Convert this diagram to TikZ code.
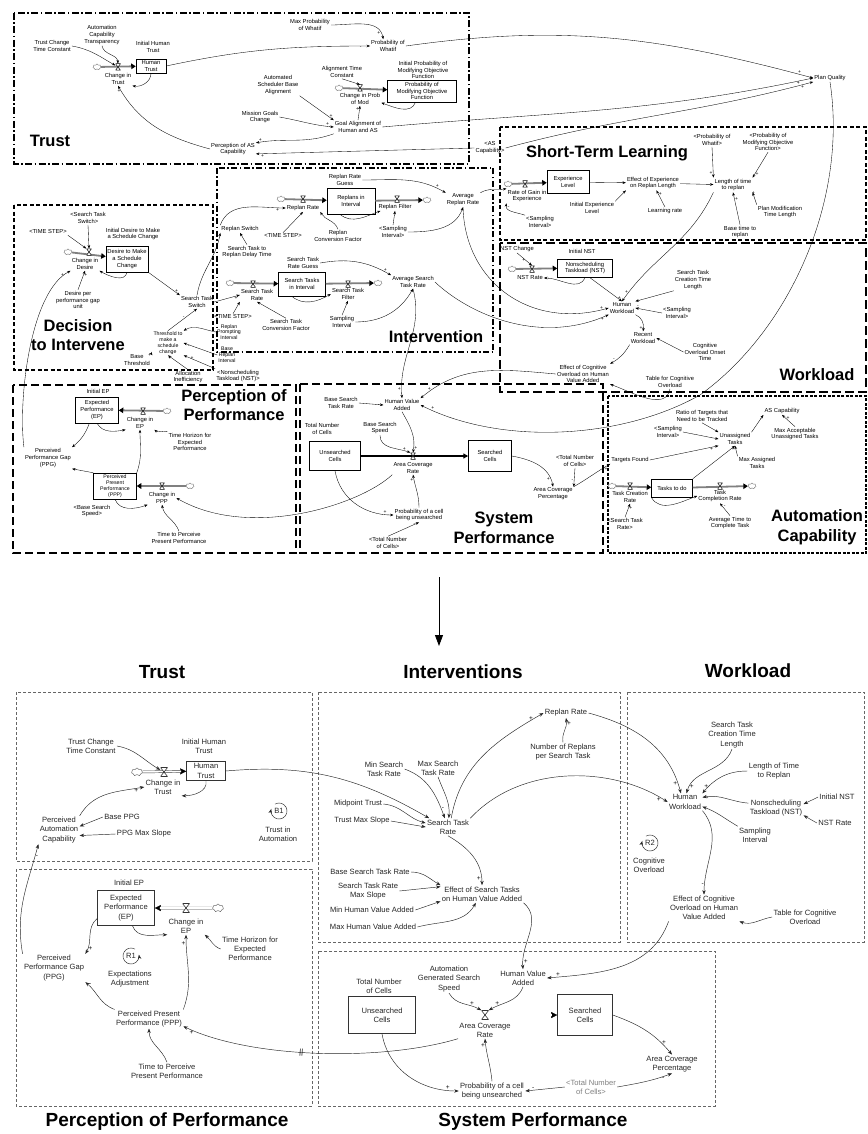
\documentclass[tikz,border=0pt]{standalone}
\usepackage{fontspec}
\setmainfont{Liberation Sans}
\usetikzlibrary{arrows.meta,shapes.symbols,calc}

\newcommand\tsz{\fontsize{5.8}{6.9}\selectfont}
\newcommand\thsz{\fontsize{5.2}{5.8}\selectfont}
\newcommand\bsz{\fontsize{7.6}{9.2}\selectfont}
\newcommand\psz{\fontsize{5}{5}\selectfont}

\begin{document}
\begin{tikzpicture}[x=1pt,y=-1pt,
  tl/.style={font=\tsz, align=center, inner sep=1pt},
  bl/.style={font=\bsz, align=center, inner sep=1.2pt, text=black!85},
  stT/.style={draw, line width=.5pt, font=\tsz, align=center, inner sep=1.5pt},
  stB/.style={draw=black!80, line width=.6pt, font=\bsz, align=center, inner sep=1.5pt, text=black!85},
  ttl/.style={font=\fontsize{16.5}{19.5}\selectfont\bfseries, align=center, inner sep=0pt},
  btl/.style={font=\fontsize{19}{22}\selectfont\bfseries, inner sep=0pt},
  lk/.style={-{Stealth[length=3.4pt,width=2.6pt]}, line width=.35pt},
  blk/.style={-{Stealth[length=4.5pt,width=3.4pt]}, line width=.45pt, draw=black!85},
  pol/.style={font=\psz, inner sep=.6pt},
  bpol/.style={font=\fontsize{6.5}{6.5}\selectfont, inner sep=.6pt},
  cloudT/.style={cloud, cloud puffs=7, aspect=1.4, minimum width=8pt, minimum height=6pt, inner sep=0pt, draw=black!55, line width=.4pt, fill=white},
  cloudB/.style={cloud, cloud puffs=7, aspect=1.4, minimum width=11pt, minimum height=8pt, inner sep=0pt, draw=black!60, line width=.45pt, fill=white},
  pipeT/.style={line width=1.8pt, draw=black!50, -{Triangle[length=4.5pt,width=5.5pt,color=black]}},
  pipeB/.style={draw=black!75, line width=.45pt, double=white, double distance=1.6pt, shorten >=5pt},
  pipeBhead/.style={draw=black, line width=.2pt, -{Triangle[length=6pt,width=6pt]}},
  valveT/.style={minimum width=5pt, minimum height=6.5pt, inner sep=0pt,
    path picture={\draw[line width=.5pt, fill=white] (path picture bounding box.north west) -- (path picture bounding box.north east) -- (path picture bounding box.south west) -- (path picture bounding box.south east) -- cycle;}},
  valveB/.style={minimum width=7pt, minimum height=9pt, inner sep=0pt,
    path picture={\draw[line width=.6pt, draw=black!80, fill=white] (path picture bounding box.north west) -- (path picture bounding box.north east) -- (path picture bounding box.south west) -- (path picture bounding box.south east) -- cycle;}},
  bbox/.style={draw=black!60, line width=.5pt, dash pattern=on 3pt off 2pt}
]
\fill[white] (0,0) rectangle (867,1134);
\useasboundingbox (0,0) rectangle (867,1134);

% ================= upper model: sector frames =================
\draw[line width=1.5pt, dash pattern=on 7pt off 2.5pt on 1.5pt off 2.5pt] (14,13) rectangle (469,164);
\draw[line width=1.5pt, dash pattern=on 6pt off 2.5pt on 1.5pt off 2.5pt] (217,168) rectangle (493,352);
\draw[line width=1.5pt, dash pattern=on 4pt off 2.5pt] (14,205) rectangle (213,370);
\draw[line width=1.5pt, dash pattern=on 4pt off 2.5pt] (500,127) rectangle (866,240);
\draw[line width=1.5pt, dash pattern=on 9pt off 4pt] (500,243) rectangle (866,392);
\draw[line width=1.5pt, dash pattern=on 8pt off 4pt] (13,385) rectangle (296,553);
\draw[line width=1.5pt, dash pattern=on 8pt off 4pt] (300,384) rectangle (603,553);
\draw[line width=1.2pt, dash pattern=on 3pt off 1.5pt] (608,396) rectangle (866,553);

\node[ttl] at (50,141) {Trust};
\node[ttl] at (607,153) {Short-Term Learning};
\node[ttl] at (436,337) {Intervention};
\node[ttl] at (78,335) {Decision\\to Intervene};
\node[ttl] at (817,375) {Workload};
\node[ttl] at (234,405) {Perception of\\Performance};
\node[ttl] at (504,528) {System\\Performance};
\node[ttl] at (817,527) {Automation\\Capability};

% ----- Trust
\node[tl] (tctc) at (52,46) {Trust Change\\Time Constant};
\node[tl] (act) at (102,35) {Automation\\Capability\\Transparency};
\node[tl] (iht) at (153,47) {Initial Human\\Trust};
\node[stT, minimum width=30pt, minimum height=14pt] (ht) at (151,66) {Human\\Trust};
\node[cloudT] (c1) at (97,67) {};
\draw[pipeT] (c1) -- (ht);
\node[valveT] (v1) at (118,67) {};
\node[tl] (cit) at (118,79) {Change in\\Trust};
\node[tl] (mpw) at (310,25) {Max Probability\\of Whatif};
\node[tl] (pw) at (388,46) {Probability of\\Whatif};
\node[tl] (pq) at (830,78) {Plan Quality};
\node[tl] (atc) at (342,72) {Alignment Time\\Constant};
\node[tl] (ipm) at (423,70) {Initial Probability of\\Modifying Objective\\Function};
\node[stT, minimum width=69pt, minimum height=22pt] (pm) at (422,91) {Probability of\\Modifying Objective\\Function};
\node[cloudT] (c2) at (339,88) {};
\draw[pipeT] (c2) -- (pm);
\node[valveT] (v2) at (360,88) {};
\node[tl] (cpm) at (360,99) {Change in Prob\\of Mod};
\node[tl] (asba) at (278,85) {Automated\\Scheduler Base\\Alignment};
\node[tl] (mgc) at (260,117) {Mission Goals\\Change};
\node[tl] (ga) at (358,127) {Goal Alignment of\\Human and AS};
\node[tl] (pac) at (233,149) {Perception of AS\\Capability};
\node[tl] (asc) at (490,148) {<AS\\Capability>};

\draw[lk] (tctc.east) to[out=-10,in=150] (v1);
\draw[lk] (act.south) to[out=-80,in=95] (v1.north);
\draw[lk] (ht.south) to[out=-90,in=-10] (cit.south east);
\draw[lk] (ht.east) to[out=12,in=180] node[pol,pos=.96,below]{-} (pw.west);
\draw[lk] (mpw.east) to[out=0,in=100] node[pol,pos=.88,left]{+} (pw.125);
\draw[lk] (pw.east) to[out=8,in=165] node[pol,pos=.97,above]{+} (pq.west);
\draw[lk] (atc.south) -- (v2.north);
\draw[lk] (pm.-120) to[out=-110,in=-20] (cpm.-10);
\draw[lk] (asba.south east) -- node[pol,pos=.92,above]{+} (ga.north west);
\draw[lk] (mgc.east) to[out=-10,in=175] node[pol,pos=.9,above]{+} (ga.west);
\draw[lk] (ga.north) -- node[pol,pos=.8,left]{+} (cpm.south);
\draw[lk] (ga.east) to[out=5,in=192] node[pol,pos=.97,below]{+} (pq.west);
\draw[lk] (ga.south west) to[out=200,in=10] node[pol,pos=.95,above]{+} (pac.15);
\draw[lk] (asc.west) -- node[pol,pos=.97,below]{+} (pac.-12);
\draw[lk] (asc.east) to[out=15,in=195] node[pol,pos=.97,below]{+} (pq.south west);
\draw[lk] (pac.west) to[out=165,in=-60] node[pol,pos=.95,left]{+} (cit.south);

% ----- Short-term learning
\node[cloudT] (c3) at (508,184) {};
\node[stT, minimum width=42pt, minimum height=23pt] (el) at (568,182) {Experience\\Level};
\draw[pipeT] (c3) -- (el);
\node[valveT] (v3) at (525,184) {};
\node[tl] (rge) at (527,196) {Rate of Gain in\\Experience};
\node[tl] (si1) at (540,222) {<Sampling\\Interval>};
\node[tl] (iel) at (592,208) {Initial Experience\\Level};
\node[tl] (eer) at (653,183) {Effect of Experience\\on Replan Length};
\node[tl] (lr) at (665,211) {Learning rate};
\node[tl] (ltr) at (733,185) {Length of time\\to replan};
\node[tl] (pw2) at (712,140) {<Probability of\\Whatif>};
\node[tl] (pm2) at (768,142) {<Probability of\\Modifying Objective\\Function>};
\node[tl] (btr) at (740,232) {Base time to\\replan};
\node[tl] (pmt) at (780,212) {Plan Modification\\Time Length};

\draw[lk] (el) -- (eer);
\draw[lk] (si1.north west) to[out=160,in=-100] node[pol,pos=.8,right]{-} (rge.south west);
\draw[lk] (iel.north east) -- node[pol,pos=.8,below]{-} (eer.south west);
\draw[lk] (lr.north) -- node[pol,pos=.8,right]{+} (eer.-65);
\draw[lk] (eer) -- (ltr);
\draw[lk] (pw2.south) -- node[pol,pos=.85,left]{+} (ltr.north west);
\draw[lk] (pm2.south) -- node[pol,pos=.85,right]{+} (ltr.north east);
\draw[lk] (btr.north) -- node[pol,pos=.8,right]{+} (ltr.south);
\draw[lk] (pmt.north west) -- node[pol,pos=.8,above]{+} (ltr.south east);

% ----- Intervention
\node[tl] (rrg) at (345,180) {Replan Rate\\Guess};
\node[cloudT] (c4) at (281,199) {};
\node[stT, minimum width=48pt, minimum height=26pt] (ri) at (351,201) {Replans in\\Interval};
\node[cloudT] (c5) at (427,200) {};
\draw[pipeT] (c4) -- (ri);
\draw[pipeT] (ri) -- (c5);
\node[valveT] (v4) at (303,199) {};
\node[valveT] (v5) at (397,199) {};
\node[tl] (rr) at (303,208) {Replan Rate};
\node[tl] (rf) at (395,207) {Replan Filter};
\node[tl] (ts1) at (283,236) {<TIME STEP>};
\node[tl] (rcf) at (338,236) {Replan\\Conversion Factor};
\node[tl] (si2) at (393,232) {<Sampling\\Interval>};
\node[tl] (arr) at (463,200) {Average\\Replan Rate};
\node[tl] (rs) at (240,229) {Replan Switch};
\node[tl] (strd) at (247,252) {Search Task to\\Replan Delay Time};
\node[tl] (sts) at (197,302) {Search Task\\Switch};
\node[tl] (strg) at (303,263) {Search Task\\Rate Guess};
\node[cloudT] (c6) at (230,283) {};
\node[stT, minimum width=47pt, minimum height=24pt] (sti) at (302,284) {Search Tasks\\in Interval};
\node[cloudT] (c7) at (378,283) {};
\draw[pipeT] (c6) -- (sti);
\draw[pipeT] (sti) -- (c7);
\node[valveT] (v6) at (253,284) {};
\node[valveT] (v7) at (348,284) {};
\node[tl] (str) at (257,295) {Search Task\\Rate};
\node[tl] (stf) at (348,294) {Search Task\\Filter};
\node[tl] (asr) at (413,282) {Average Search\\Task Rate};
\node[tl] (si3) at (342,322) {Sampling\\Interval};
\node[tl] (ts2) at (233,317) {<TIME STEP>};
\node[tl] (stcf) at (286,325) {Search Task\\Conversion Factor};

\draw[lk] (arr.north east) to[out=30,in=190] (rge.north west);
\draw[lk] (rrg.east) to[out=0,in=150] node[pol,pos=.9,above]{+} (arr.north west);
\draw[lk] (ts1.north) -- (rr.south);
\draw[lk] (rcf.north) to[out=110,in=-60] (rr.south east);
\draw[lk] (si2.north) -- (rf.south);
\draw[lk] (si2.east) to[out=0,in=-110] (arr.south);
\draw[lk] (ri.-130) to[out=-40,in=-160] (rf.-165);
\draw[lk] (rs.north west) to[out=70,in=180] node[pol,pos=.9,below]{+} (rr.west);
\draw[lk] (strd.north) -- (rs.south);
\draw[lk] (sts.north) to[out=80,in=-100] (rs.south west);
\draw[lk] (strg.east) to[out=10,in=150] node[pol,pos=.92,above]{+} (asr.north west);
\draw[lk] (sts.east) -- node[pol,pos=.85,below]{+} (str.west);
\draw[lk] (ts2.north) -- (str.south west);
\draw[lk] (stcf.north) -- (str.south);
\draw[lk] (si3.north) -- (stf.south);
\draw[lk] (si3.east) to[out=0,in=-120] (asr.south);
\draw[lk] (sti.-130) to[out=-40,in=-150] (stf.west);

% ----- Decision to intervene
\node[tl, font=\thsz] (thr) at (168,343) {Threshold to\\make a\\schedule\\change};
\node[tl] (bt) at (137,360) {Base\\Threshold};
\node[tl, font=\thsz] (rpi) at (229,332) {Replan\\Prompting\\Interval};
\node[tl, font=\thsz] (bri) at (227,355) {Base\\Replan\\Interval};
\node[tl] (ai) at (188,377) {Allocation\\Inefficiency};
\node[tl] (nst1) at (238,376) {<Nonscheduling\\Taskload (NST)>};
\node[tl] (sts2) at (88,218) {<Search Task\\Switch>};
\node[tl] (ts3) at (48,232) {<TIME STEP>};
\node[tl] (idm) at (133,234) {Initial Desire to Make\\a Schedule Change};
\node[cloudT] (c8) at (68,252) {};
\node[stT, minimum width=40pt, minimum height=26pt] (dms) at (127,259) {Desire to Make\\a Schedule\\Change};
\draw[pipeT] (c8) -- (dms);
\node[valveT] (v8) at (89,252) {};
\node[tl] (cid) at (85,264) {Change in\\Desire};
\node[tl] (dpg) at (78,300) {Desire per\\performance gap\\unit};

\draw[lk] (thr.north) -- node[pol,pos=.6,left]{-} (sts.south);
\draw[lk] (bt.north east) -- node[pol,pos=.8,left]{+} (thr.south west);
\draw[lk] (rpi.west) to[out=170,in=30] (thr.north east);
\draw[lk] (bri.west) -- node[pol,pos=.85,below]{-} (thr.east);
\draw[lk] (ai.north) -- node[pol,pos=.8,left]{+} (thr.south);
\draw[lk] (nst1.north west) -- node[pol,pos=.8,right]{+} (thr.south east);
\draw[lk] (sts2.south) -- (v8.north);
\draw[lk] (ts3.south east) -- (v8.north west);
\draw[lk] (dms.south) to[out=-100,in=-30] (cid.south east);
\draw[lk] (dpg.north) -- node[pol,pos=.8,right]{+} (cid.south);
\draw[lk] (dms.south east) -- node[pol,pos=.9,above]{+} (sts.north west);

% ----- Workload
\node[tl] (nstc) at (517,249) {NST Change};
\node[tl] (inst) at (582,251) {Initial NST};
\node[cloudT] (c9) at (512,269) {};
\node[stT, minimum width=55pt, minimum height=18pt] (nst) at (585,268) {Nonscheduling\\Taskload (NST)};
\draw[pipeT] (c9) -- (nst);
\node[valveT] (v9) at (532,269) {};
\node[tl] (nstr) at (530,278) {NST Rate};
\node[tl] (hw) at (622,308) {Human\\Workload};
\node[tl] (stct) at (693,280) {Search Task\\Creation Time\\Length};
\node[tl] (si4) at (677,313) {<Sampling\\Interval>};
\node[tl] (rw) at (643,338) {Recent\\Workload};
\node[tl] (coot) at (705,352) {Cognitive\\Overload Onset\\Time};
\node[tl] (eco) at (583,374) {Effect of Cognitive\\Overload on Human\\Value Added};
\node[tl] (tco) at (670,382) {Table for Cognitive\\Overload};

\draw[lk] (nstc.south) -- node[pol,pos=.6,left]{+} (v9.north);
\draw[lk] (nst.south) to[out=-110,in=0] node[pol,pos=.9,below]{-} (nstr.east);
\draw[lk] (nst.-65) -- node[pol,pos=.85,right]{+} (hw.north);
\draw[lk] (stct.south west) -- node[pol,pos=.9,below]{-} (hw.north east);
\draw[lk] (si4.west) -- node[pol,pos=.9,above]{-} (hw.east);
\draw[lk] (ltr.south west) to[out=-115,in=55] node[pol,pos=.93,left]{+} (hw.north);
\draw[lk] (hw.south east) to[out=-20,in=80] node[pol,pos=.85,left]{+} (rw.north);
\draw[lk] (coot.west) -- (rw.east);
\draw[lk] (rw.south west) to[out=-120,in=30] node[pol,pos=.85,above]{-} (eco.north east);
\draw[lk] (tco.south) to[out=-100,in=-20] (eco.south east);

% ----- Automation capability
\node[tl] (rtt) at (702,416) {Ratio of Targets that\\Need to be Tracked};
\node[tl] (ascap) at (782,411) {AS Capability};
\node[tl] (maut) at (795,434) {Max Acceptable\\Unassigned Tasks};
\node[tl] (si5) at (668,432) {<Sampling\\Interval>};
\node[tl] (ut) at (735,439) {Unassigned\\Tasks};
\node[tl] (tf) at (630,460) {Targets Found};
\node[tl] (mat) at (757,463) {Max Assigned\\Tasks};
\node[cloudT] (c10) at (612,486) {};
\node[stT, minimum width=41pt, minimum height=18pt] (tdo) at (672,488) {Tasks to do};
\node[cloudT] (c11) at (752,486) {};
\draw[pipeT] (c10) -- (tdo);
\draw[pipeT] (tdo) -- (c11);
\node[valveT] (v10) at (630,486) {};
\node[valveT] (v11) at (720,486) {};
\node[tl] (tcr) at (630,497) {Task Creation\\Rate};
\node[tl] (tcomp) at (720,496) {Task\\Completion Rate};
\node[tl] (strr) at (625,524) {<Search Task\\Rate>};
\node[tl] (atc2) at (730,523) {Average Time to\\Complete Task};

\draw[lk] (rtt.south) -- (ut.north west);
\draw[lk] (si5.east) -- (ut.west);
\draw[lk] (tf.east) -- node[pol,pos=.9,below]{+} (ut.south west);
\draw[lk] (mat.north west) -- node[pol,pos=.8,left]{-} (ut.south);
\draw[lk] (ut.north east) -- node[pol,pos=.8,below]{-} (ascap.south west);
\draw[lk] (maut.north) -- node[pol,pos=.7,right]{+} (ascap.south);
\draw[lk] (tdo.north east) -- node[pol,pos=.9,right]{+} (ut.south);
\draw[lk] (strr.north) -- node[pol,pos=.7,right]{+} (tcr.south);
\draw[lk] (tdo.south west) to[out=-60,in=-160] (tcomp.west);
\draw[lk] (atc2.north) -- node[pol,pos=.7,right]{-} (tcomp.south);

% ----- Perception of performance
\node[tl] (iep) at (98,391) {Initial EP};
\node[stT, minimum width=43pt, minimum height=26pt] (ep) at (97,410) {Expected\\Performance\\(EP)};
\node[cloudT] (c12) at (167,411) {};
\draw[pipeT] (c12) -- (ep);
\node[valveT] (v12) at (143,411) {};
\node[tl] (cep) at (140,423) {Change in\\EP};
\node[tl] (the) at (190,442) {Time Horizon for\\Expected\\Performance};
\node[tl] (ppg) at (48,458) {Perceived\\Performance Gap\\(PPG)};
\node[stT, font=\thsz, minimum width=43pt, minimum height=26pt, inner sep=.5pt] (ppp) at (115,486) {Perceived\\Present\\Performance\\(PPP)};
\node[cloudT] (c13) at (190,486) {};
\draw[pipeT] (c13) -- (ppp);
\node[valveT] (v13) at (162,486) {};
\node[tl] (cppp) at (162,498) {Change in\\PPP};
\node[tl] (bss) at (92,511) {<Base Search\\Speed>};
\node[tl] (tpp) at (179,538) {Time to Perceive\\Present Performance};

\draw[lk] (ep.south) to[out=-60,in=-170] (cep.south west);
\draw[lk] (the.north west) to[out=160,in=-40] (cep.south east);
\draw[lk] (ep.-120) to[out=-110,in=40] (ppg.north east);
\draw[lk] (ppp.north west) -- (ppg.south east);
\draw[lk] (ppp.north east) to[out=70,in=-90] (cep.south);
\draw[lk] (ppp.south) to[out=-70,in=-160] (cppp.south west);
\draw[lk] (tpp.north) to[out=110,in=-80] (cppp.south);
\draw[lk] (ppg.north west) .. controls (18,400) and (30,292) .. node[pol,pos=.95,left]{+} (cid.south west);

% ----- System performance
\node[tl] (bstr) at (341,403) {Base Search\\Task Rate};
\node[tl] (hva) at (402,405) {Human Value\\Added};
\node[tl] (tnc) at (322,429) {Total Number\\of Cells};
\node[tl] (bss2) at (380,428) {Base Search\\Speed};
\node[stT, minimum width=51pt, minimum height=29pt] (uc) at (335,456) {Unsearched\\Cells};
\node[stT, minimum width=43pt, minimum height=31pt] (sc) at (490,456) {Searched\\Cells};
\draw[line width=1.2pt, -{Triangle[length=5pt,width=5pt]}] (uc) -- (sc);
\node[valveT] (v14) at (413,456) {};
\node[tl] (acr) at (413,468) {Area Coverage\\Rate};
\node[tl] (pcu) at (419,515) {Probability of a cell\\being unsearched};
\node[tl] (tnc2) at (388,543) {<Total Number\\of Cells>};
\node[tl] (tnc3) at (575,461) {<Total Number\\of Cells>};
\node[tl] (acp) at (553,494) {Area Coverage\\Percentage};

\draw[lk] (bstr.east) -- node[pol,pos=.8,below]{-} (hva.west);
\draw[lk] (hva.south) to[out=-60,in=80] node[pol,pos=.9,right]{+} (v14.north);
\draw[lk] (bss2.south) to[out=-90,in=160] node[pol,pos=.85,above]{+} (v14.north west);
\draw[lk] (uc.south) to[out=-80,in=180] node[pol,pos=.9,above]{+} (pcu.west);
\draw[lk] (pcu.north) to[out=90,in=-80] node[pol,pos=.85,left]{+} (acr.south);
\draw[lk] (tnc2.north) -- node[pol,pos=.8,right]{-} (pcu.south);
\draw[lk] (sc.east) to[out=-10,in=100] node[pol,pos=.85,left]{+} (acp.north);
\draw[lk] (tnc3.south) -- node[pol,pos=.7,left]{-} (acp.north east);
\draw[lk] (acr.south west) .. controls (360,505) and (250,540) .. (cppp.east);
\draw[lk] (acp.north east) to[out=30,in=-150] node[pol,pos=.9,below]{+} (tf.south west);

% ----- links that cross sectors
\draw[lk] (arr.south) .. controls (465,282) and (530,330) .. node[pol,pos=.97,above]{+} (hw.west);
\draw[lk] (asr.east) .. controls (470,315) and (540,345) .. node[pol,pos=.97,below]{+} (hw.south west);
\draw[lk] (asr.south) to[out=-75,in=95] node[pol,pos=.93,left]{+} (hva.north);
\draw[lk] (eco.west) to[out=175,in=40] node[pol,pos=.93,above]{+} (hva.north east);
\draw[lk] (pq.south) .. controls (848,200) and (790,330) .. (700,395)
   .. controls (620,440) and (500,445) .. node[pol,pos=.95,above]{+} (hva.east);

% ================= transition arrow =================
\coordinate (tr1) at (439,577);
\coordinate (tr2) at (439,646);
\draw[line width=.8pt, -{Triangle[length=11pt,width=8pt]}] (tr1) -- (tr2);

% ================= lower model =================
\draw[bbox] (16,692) rectangle (312,861);
\draw[bbox] (16,869) rectangle (312,1106);
\draw[bbox] (318,692) rectangle (620,942);
\draw[bbox] (627,692) rectangle (864,942);
\draw[bbox] (318,951) rectangle (715,1106);

\node[btl] at (162,672) {Trust};
\node[btl] at (463,672) {Interventions};
\node[btl] at (748,671) {Workload};
\node[btl] at (167,1122) {Perception of Performance};
\node[btl] at (533,1122) {System Performance};

% ----- Trust
\node[bl] (b_tctc) at (91,746) {Trust Change\\Time Constant};
\node[bl] (b_iht) at (204,746) {Initial Human\\Trust};
\node[stB, minimum width=39pt, minimum height=19pt] (b_ht) at (206,771) {Human\\Trust};
\node[cloudB] (b_c1) at (137,772) {};
\draw[pipeBhead] (b_c1) -- (b_ht);
\draw[pipeB] (b_c1) -- (b_ht);
\node[valveB] (b_v1) at (164,772) {};
\node[bl] (b_cit) at (163,787) {Change in\\Trust};
\node[bl] (b_pac) at (59,830) {Perceived\\Automation\\Capability};
\node[bl] (b_bppg) at (122,817) {Base PPG};
\node[bl] (b_pms) at (144,834) {PPG Max Slope};
\node[bl] (b_b1) at (279,811) {B1};
\draw[blk] ([shift={(120:8pt)}]b_b1.center) arc[start angle=120, end angle=-195, radius=8pt];
\node[bl] (b_tia) at (278,834) {Trust in\\Automation};

\draw[blk] (b_tctc.east) to[out=-10,in=150] (b_v1);
\draw[blk] (b_ht.south) to[out=-80,in=0] (b_cit.south east);
\draw[blk] (b_pac.north east) to[out=60,in=190] node[bpol,pos=.9,below]{+} (b_cit.west);
\draw[blk] (b_bppg.west) -- (b_pac.10);
\draw[blk] (b_pms.west) -- (b_pac.-15);

% ----- Perception of performance
\node[bl] (b_iep) at (129,883) {Initial EP};
\node[stB, minimum width=57pt, minimum height=35pt] (b_ep) at (126,908) {Expected\\Performance\\(EP)};
\node[cloudB] (b_c2) at (218,908) {};
\draw[pipeBhead] (b_c2) -- (b_ep);
\draw[pipeB] (b_c2) -- (b_ep);
\node[valveB] (b_v2) at (186,908) {};
\node[bl] (b_cep) at (186,926) {Change in\\EP};
\node[bl] (b_the) at (250,949) {Time Horizon for\\Expected\\Performance};
\node[bl] (b_ppg) at (54,968) {Perceived\\Performance Gap\\(PPG)};
\node[bl] (b_r1) at (131,956) {R1};
\draw[blk] ([shift={(60:8pt)}]b_r1.center) arc[start angle=60, end angle=370, radius=8pt];
\node[bl] (b_ea) at (130,979) {Expectations\\Adjustment};
\node[bl] (b_ppp) at (149,1019) {Perceived Present\\Performance (PPP)};
\node[bl] (b_tpp) at (167,1071) {Time to Perceive\\Present Performance};

\draw[blk] (b_ep.-70) to[out=-70,in=180] (b_cep.south west);
\draw[blk] (b_the.west) to[out=160,in=-40] (b_cep.south east);
\draw[blk] (b_ep.-160) to[out=-140,in=60] node[bpol,pos=.85,right]{+} (b_ppg.north east);
\draw[blk] (b_ppg.north west) to[out=100,in=-105] node[bpol,pos=.9,right]{-} (b_pac.south west);
\draw[blk] (b_ppp.north west) to[out=160,in=-40] node[bpol,pos=.85,above]{-} (b_ppg.south east);
\draw[blk] (b_ppp.north east) to[out=70,in=-90] node[bpol,pos=.9,left]{+} (b_cep.south);
\draw[blk] (b_tpp.north) to[out=110,in=-90] (b_ppp.south);

% ----- Interventions
\node[bl] (b_rr) at (566,713) {Replan Rate};
\node[bl] (b_nr) at (563,752) {Number of Replans\\per Search Task};
\node[bl] (b_minr) at (384,769) {Min Search\\Task Rate};
\node[bl] (b_maxr) at (438,768) {Max Search\\Task Rate};
\node[bl] (b_mt) at (358,804) {Midpoint Trust};
\node[bl] (b_tms) at (362,821) {Trust Max Slope};
\node[bl] (b_str) at (448,827) {Search Task\\Rate};
\node[bl] (b_bstr) at (370,872) {Base Search Task Rate};
\node[bl] (b_strms) at (368,891) {Search Task Rate\\Max Slope};
\node[bl] (b_minh) at (372,910) {Min Human Value Added};
\node[bl] (b_maxh) at (373,927) {Max Human Value Added};
\node[bl] (b_est) at (482,894) {Effect of Search Tasks\\on Human Value Added};

\draw[blk] (b_ht.east) to[out=5,in=150] (b_str.155);
\draw[blk] (b_minr.east) to[out=-20,in=110] node[bpol,pos=.85,right]{-} (b_str.110);
\draw[blk] (b_maxr.south) to[out=-70,in=85] (b_str.85);
\draw[blk] (b_mt.east) to[out=-5,in=165] (b_str.170);
\draw[blk] (b_tms.east) -- (b_str.west);
\draw[blk] (b_str.70) to[out=80,in=-150] node[bpol,pos=.93,left]{+} (b_rr.west);
\draw[blk] (b_nr.north) to[out=100,in=-80] node[bpol,pos=.8,right]{+} (b_rr.south);
\draw[blk] (b_str.south) to[out=-30,in=90] node[bpol,pos=.9,left]{+} (b_est.north);
\draw[blk] (b_bstr.east) to[out=0,in=150] (b_est.north west);
\draw[blk] (b_strms.east) -- (b_est.170);
\draw[blk] (b_minh.east) -- (b_est.190);
\draw[blk] (b_maxh.east) to[out=15,in=-120] (b_est.-125);

% ----- Workload
\node[bl] (b_stct) at (732,735) {Search Task\\Creation Time\\Length};
\node[bl] (b_ltr) at (774,771) {Length of Time\\to Replan};
\node[bl] (b_hw) at (685,802) {Human\\Workload};
\node[bl] (b_nst) at (776,808) {Nonscheduling\\Taskload (NST)};
\node[bl] (b_inst) at (837,797) {Initial NST};
\node[bl] (b_nstr) at (835,823) {NST Rate};
\node[bl] (b_si) at (755,835) {Sampling\\Interval};
\node[bl] (b_r2) at (650,843) {R2};
\draw[blk] ([shift={(120:8pt)}]b_r2.center) arc[start angle=120, end angle=-195, radius=8pt];
\node[bl] (b_co) at (649,865) {Cognitive\\Overload};
\node[bl] (b_eco) at (704,908) {Effect of Cognitive\\Overload on Human\\Value Added};
\node[bl] (b_tco) at (805,917) {Table for Cognitive\\Overload};

\draw[blk] (b_str.north east) .. controls (520,765) and (610,765) .. node[bpol,pos=.95,below]{+} (b_hw.west);
\draw[blk] (b_rr.east) to[out=-15,in=105] node[bpol,pos=.93,left]{+} (b_hw.115);
\draw[blk] (b_stct.south) to[out=-110,in=75] node[bpol,pos=.9,right]{+} (b_hw.80);
\draw[blk] (b_ltr.west) to[out=180,in=50] node[bpol,pos=.9,above]{+} (b_hw.north east);
\draw[blk] (b_nst.170) to[out=175,in=10] node[bpol,pos=.9,below]{-} (b_hw.15);
\draw[blk] (b_si.north west) to[out=150,in=-20] (b_hw.-15);
\draw[blk] (b_inst.west) -- (b_nst.8);
\draw[blk] (b_nstr.west) -- (b_nst.-15);
\draw[blk] (b_hw.south east) to[out=-50,in=90] node[bpol,pos=.9,left]{-} (b_eco.north);
\draw[blk] (b_tco.west) to[out=190,in=-20] (b_eco.south east);

% ----- System performance
\node[bl] (b_agss) at (449,979) {Automation\\Generated Search\\Speed};
\node[bl] (b_hva) at (523,978) {Human Value\\Added};
\node[bl] (b_tnc) at (379,986) {Total Number\\of Cells};
\node[stB, minimum width=67pt, minimum height=37pt] (b_uc) at (382,1015) {Unsearched\\Cells};
\node[stB, minimum width=55pt, minimum height=41pt] (b_sc) at (585,1015) {Searched\\Cells};
\draw[pipeBhead] (b_uc) -- (b_sc);
\draw[pipeB] (b_uc) -- (b_sc);
\node[valveB] (b_v3) at (485,1015) {};
\node[bl] (b_acr) at (485,1030) {Area Coverage\\Rate};
\node[bl] (b_pcu) at (492,1091) {Probability of a cell\\being unsearched};
\node[bl, text=black!50] (b_tnc2) at (591,1087) {<Total Number\\of Cells>};
\node[bl] (b_acp) at (672,1064) {Area Coverage\\Percentage};

\draw[blk] (b_est.south east) to[out=-40,in=95] node[bpol,pos=.9,right]{+} (b_hva.north);
\draw[blk] (b_eco.south west) to[out=-110,in=5] node[bpol,pos=.93,above]{+} (b_hva.east);
\draw[blk] (b_agss.south) to[out=-60,in=150] node[bpol,pos=.75,above]{+} (b_v3.north west);
\draw[blk] (b_hva.south) to[out=-110,in=30] node[bpol,pos=.8,above]{+} (b_v3.north east);
\draw[blk] (b_uc.south) to[out=-80,in=180] node[bpol,pos=.9,above]{+} (b_pcu.west);
\draw[blk] (b_pcu.north) to[out=95,in=-85] node[bpol,pos=.85,left]{+} (b_acr.south);
\draw[blk] (b_tnc2.west) -- node[bpol,pos=.8,above]{-} (b_pcu.east);
\draw[blk] (b_tnc2.east) to[out=10,in=-160] node[bpol,pos=.85,below]{-} (b_acp.south);
\draw[blk] (b_sc.east) to[out=-20,in=130] node[bpol,pos=.85,above]{+} (b_acp.north);
\draw[blk] (b_acr.south west) .. controls (380,1062) and (250,1058) ..
   node[pos=.55, sloped, font=\bsz, inner sep=0pt]{||}
   node[bpol,pos=.96,below]{+} (b_ppp.-12);

\end{tikzpicture}
\end{document}
